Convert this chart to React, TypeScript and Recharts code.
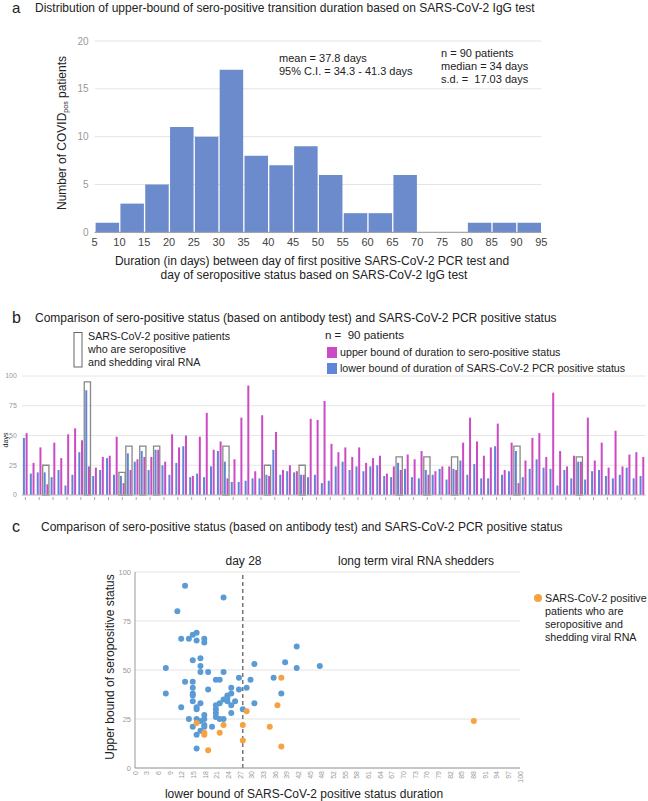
import React from 'react';
import { BarChart, Bar, XAxis, YAxis, CartesianGrid, ScatterChart, Scatter, ReferenceLine } from 'recharts';

// ---------- Panel a: histogram ----------
const binStarts = [5, 10, 15, 20, 25, 30, 35, 40, 45, 50, 55, 60, 65, 70, 75, 80, 85, 90];
const binCounts = [1, 3, 5, 11, 10, 17, 8, 7, 9, 6, 2, 2, 6, 0, 0, 1, 1, 1];
const durationTicks = [5, 10, 15, 20, 25, 30, 35, 40, 45, 50, 55, 60, 65, 70, 75, 80, 85, 90, 95];
const countTicks = [0, 5, 10, 15, 20];

// ---------- Panel b: per patient bars ----------
const lowerBound = [
  48, 18, 19, 19, 15, 21, 8, 17, 36, 88,
  16, 21, 31, 17, 16, 35, 28, 37, 21, 38,
  25, 17, 27, 41, 15, 18, 15, 24, 37, 28,
  11, 11, 12, 14, 14, 17, 38, 17, 20, 19,
  17, 15, 17, 10, 12, 24, 28, 21, 24, 20,
  24, 25, 16, 15, 27, 22, 15, 14, 21, 17,
  22, 13, 22, 29, 17, 26, 14, 14, 41, 17,
  20, 37, 15, 22, 30, 23, 22, 8, 21, 14,
  28, 13, 20, 21, 16, 14, 17, 23, 14, 16,
];
const upperBound = [
  52, 27, 40, 9, 44, 31, 51, 56, 46, 24,
  23, 32, 33, 49, 10, 21, 30, 32, 32, 38,
  28, 51, 40, 50, 16, 49, 69, 38, 45, 14,
  30, 65, 92, 20, 67, 16, 53, 21, 25, 20,
  17, 64, 63, 79, 43, 36, 40, 32, 40, 27,
  31, 33, 18, 24, 21, 34, 30, 37, 17, 20,
  24, 24, 21, 44, 65, 45, 33, 40, 60, 21,
  44, 10, 29, 48, 52, 32, 86, 37, 24, 33,
  28, 65, 29, 44, 23, 54, 24, 34, 36, 32,
];
const shedderPatient = [4, 10, 15, 16, 18, 20, 30, 36, 41, 55, 59, 63, 72, 81];
const shedderBoxTop = [25, 95, 19, 41, 41, 41, 41, 25, 25, 32, 32, 32, 41, 32];
const daysTicks = [0, 25, 50, 75, 100];

// ---------- Panel c: scatter ----------
const blueLower = [
  13, 23, 11, 12, 14, 15, 16, 16, 18, 18, 8, 8, 17, 15, 17, 17, 19, 23,
  13, 15, 15, 15, 15, 15, 12, 16, 16, 17, 19, 14, 16, 17, 18, 18, 15, 18,
  18, 17, 16, 16, 20, 21, 22, 21, 21, 21, 21, 22, 22, 23, 23, 24, 24, 25,
  25, 24, 25, 26, 25, 27, 27, 28, 29, 30, 31, 31, 36, 38, 39, 42, 42, 48,
];
const blueUpper = [
  93, 87, 80, 66, 66, 68, 69, 65, 66, 64, 51, 38, 56, 55, 52, 49, 49, 49,
  44, 44, 41, 38, 37, 34, 31, 31, 30, 33, 40, 25, 25, 24, 27, 25, 21, 22,
  21, 19, 17, 10, 21, 45, 45, 32, 30, 28, 26, 33, 25, 25, 35, 36, 37, 38,
  41, 34, 32, 34, 28, 46, 40, 30, 41, 45, 53, 33, 46, 38, 54, 62, 51, 52,
];
const orangeLower = [16, 18, 18, 19, 22, 23, 28, 28, 29, 35, 37, 38, 38, 88];
const orangeUpper = [23, 18, 17, 9, 18, 22, 22, 14, 29, 21, 32, 46, 11, 24];
const lowerTickLabels = [
  '0', '3', '6', '9', '12', '15', '18', '21', '24', '27', '30', '33', '36', '39', '42', '45', '48',
  '52', '55', '58', '61', '64', '67', '70', '73', '76', '79', '82', '85', '88', '91', '94', '97', '100',
];

const histData = binStarts.map((s, i) => ({ mid: s + 2.5, count: binCounts[i] }));
const patientData = lowerBound.map((v, i) => {
  const k = shedderPatient.indexOf(i + 1);
  return { id: i + 1, lower: v, upper: upperBound[i], box: k >= 0 ? shedderBoxTop[k] : null };
});
const blueData = blueLower.map((x, i) => ({ x, y: blueUpper[i] }));
const orangeData = orangeLower.map((x, i) => ({ x, y: orangeUpper[i] }));
const lowerTicks = lowerTickLabels.map((_, i) => (i * 100) / (lowerTickLabels.length - 1));

const HIST_BLUE = '#6b8bcd';
const BAR_BLUE = '#5f86d6';
const MAGENTA = '#cc4ac4';
const DOT_BLUE = '#5b9bd5';
const DOT_ORANGE = '#f5a340';
const TXT = '#222';

const SmallTick = (p: any) => (
  <line x1={p.x} x2={p.x} y1={p.y + 2} y2={p.y + 5} stroke="#aaa" strokeWidth={1} />
);

const RotTick = (p: any) => (
  <text
    x={p.x}
    y={p.y}
    transform={`rotate(-90 ${p.x} ${p.y})`}
    textAnchor="end"
    dominantBaseline="central"
    fontSize={7}
    fill="#999"
  >
    {lowerTickLabels[p.index]}
  </text>
);

const blueDot = (p: any) => <circle cx={p.cx} cy={p.cy} r={3} fill={DOT_BLUE} />;
const orangeDot = (p: any) => <circle cx={p.cx} cy={p.cy} r={3} fill={DOT_ORANGE} />;

export default function App() {
  return (
    <div
      style={{
        position: 'absolute',
        left: 0,
        top: 0,
        width: 648,
        height: 801,
        background: '#fff',
        fontFamily: '"Liberation Sans", Arial, sans-serif',
        overflow: 'hidden',
      }}
    >
      {/* Panel a */}
      <div style={{ position: 'absolute', left: 0, top: 0 }}>
        <BarChart
          width={648}
          height={256}
          data={histData}
          margin={{ top: 41, right: 106.7, bottom: 0, left: 0 }}
        >
          <CartesianGrid vertical={false} stroke="#e4e4e4" />
          <XAxis
            type="number"
            dataKey="mid"
            domain={[5, 95]}
            ticks={durationTicks}
            interval={0}
            height={23.7}
            tickLine={false}
            tickSize={6}
            tickMargin={0}
            axisLine={{ stroke: '#999' }}
            tick={{ fontSize: 11, fill: '#444' }}
          />
          <YAxis
            type="number"
            domain={[0, 20]}
            ticks={countTicks}
            width={94.6}
            axisLine={false}
            tickLine={false}
            tickSize={6}
            tickMargin={0}
            tick={{ fontSize: 10, fill: '#999' }}
          />
          <Bar dataKey="count" fill={HIST_BLUE} barSize={23.5} isAnimationActive={false} />
        </BarChart>
      </div>

      {/* Panel b */}
      <div style={{ position: 'absolute', left: 0, top: 370 }}>
        <BarChart
          width={648}
          height={135}
          data={patientData}
          barGap={0.7}
          margin={{ top: 6, right: 2.5, bottom: 0, left: 0 }}
        >
          <CartesianGrid vertical={false} stroke="#e6e6e6" />
          <XAxis
            dataKey="id"
            height={10}
            interval={1}
            tickLine={false}
            tickSize={0}
            tickMargin={0}
            axisLine={{ stroke: '#bbb' }}
            tick={SmallTick}
          />
          <XAxis xAxisId="box" dataKey="id" hide />
          <YAxis
            type="number"
            domain={[0, 100]}
            ticks={daysTicks}
            width={21.9}
            axisLine={false}
            tickLine={false}
            tickSize={5}
            tickMargin={0}
            tick={{ fontSize: 7, fill: '#999' }}
          />
          <Bar dataKey="lower" fill={BAR_BLUE} barSize={2} isAnimationActive={false} />
          <Bar dataKey="upper" fill={MAGENTA} barSize={2} isAnimationActive={false} />
          <Bar
            xAxisId="box"
            dataKey="box"
            barSize={8}
            fill="none"
            stroke="#888"
            strokeWidth={1.3}
            isAnimationActive={false}
          />
        </BarChart>
      </div>

      {/* Panel c */}
      <div style={{ position: 'absolute', left: 0, top: 565 }}>
        <ScatterChart width={648} height={236} margin={{ top: 7, right: 128, bottom: 0, left: 0 }}>
          <CartesianGrid vertical={false} stroke="#e3e3e3" />
          <XAxis
            type="number"
            dataKey="x"
            domain={[0, 100]}
            ticks={lowerTicks}
            interval={0}
            height={33}
            tickLine={false}
            tickSize={0}
            tickMargin={3}
            axisLine={{ stroke: '#999' }}
            tick={RotTick}
          />
          <YAxis
            type="number"
            dataKey="y"
            domain={[0, 100]}
            ticks={daysTicks}
            width={135}
            axisLine={{ stroke: '#999' }}
            tickLine={false}
            tickSize={4}
            tickMargin={0}
            tick={{ fontSize: 7.5, fill: '#999' }}
          />
          <ReferenceLine x={28} stroke="#555" strokeDasharray="4 3" strokeWidth={1.2} />
          <Scatter data={blueData} fill={DOT_BLUE} shape={blueDot} isAnimationActive={false} />
          <Scatter data={orangeData} fill={DOT_ORANGE} shape={orangeDot} isAnimationActive={false} />
        </ScatterChart>
      </div>

      {/* Text overlay */}
      <svg
        width={648}
        height={801}
        style={{ position: 'absolute', left: 0, top: 0, pointerEvents: 'none' }}
      >
        {/* a */}
        <text x={12} y={13} fontSize={15} fill={TXT}>a</text>
        <text x={35} y={12} fontSize={12} fill={TXT}>
          Distribution of upper-bound of sero-positive transition duration based on SARS-CoV-2 IgG test
        </text>
        <text x={279} y={62} fontSize={11} fill={TXT}>mean = 37.8 days</text>
        <text x={279} y={75} fontSize={11} fill={TXT}>95% C.I. = 34.3 - 41.3 days</text>
        <text x={441} y={57} fontSize={11} fill={TXT}>n = 90 patients</text>
        <text x={441} y={70} fontSize={11} fill={TXT}>median = 34 days</text>
        <text x={441} y={83} fontSize={11} fill={TXT} style={{ whiteSpace: 'pre' }}>s.d. =  17.03 days</text>
        <text
          transform="translate(62,133) rotate(-90)"
          textAnchor="middle"
          dominantBaseline="central"
          fontSize={12}
          fill={TXT}
        >
          Number of COVID<tspan fontSize={7} dy={3}>pos</tspan><tspan dy={-3}> patients</tspan>
        </text>
        <text x={312} y={265} textAnchor="middle" fontSize={12} fill={TXT}>
          Duration (in days) between day of first positive SARS-CoV-2 PCR test and
        </text>
        <text x={314} y={279} textAnchor="middle" fontSize={12} fill={TXT}>
          day of seropositive status based on SARS-CoV-2 IgG test
        </text>

        {/* b */}
        <text x={12} y={323} fontSize={16} fill={TXT}>b</text>
        <text x={35} y={322} fontSize={12} fill={TXT}>
          Comparison of sero-positive status (based on antibody test) and SARS-CoV-2 PCR positive status
        </text>
        <rect x={74} y={332.5} width={8} height={34.5} fill="none" stroke="#666" strokeWidth={1} />
        <text x={88} y={340} fontSize={10.7} fill={TXT}>SARS-CoV-2 positive patients</text>
        <text x={88} y={353} fontSize={10.7} fill={TXT}>who are seropositive</text>
        <text x={88} y={366} fontSize={10.7} fill={TXT}>and shedding viral RNA</text>
        <text x={325} y={339} fontSize={11.5} fill={TXT} style={{ whiteSpace: 'pre' }}>n =  90 patients</text>
        <rect x={327} y={347} width={10} height={11} fill={MAGENTA} />
        <text x={340} y={356} fontSize={10.7} fill={TXT}>upper bound of duration to sero-positive status</text>
        <rect x={327} y={363} width={10} height={11} fill={BAR_BLUE} />
        <text x={340} y={372} fontSize={10.7} fill={TXT}>lower bound of duration of SARS-CoV-2 PCR positive status</text>
        <text
          transform="translate(5,440) rotate(-90)"
          textAnchor="middle"
          dominantBaseline="central"
          fontSize={7}
          fill={TXT}
        >
          days
        </text>

        {/* c */}
        <text x={12} y={532} fontSize={16} fill={TXT}>c</text>
        <text x={41} y={531} fontSize={12} fill={TXT}>
          Comparison of sero-positive status (based on antibody test) and SARS-CoV-2 PCR positive status
        </text>
        <text x={243.5} y={565} textAnchor="middle" fontSize={12} fill={TXT}>day 28</text>
        <text x={338} y={565} fontSize={12} fill={TXT}>long term viral RNA shedders</text>
        <circle cx={538} cy={598} r={4} fill={DOT_ORANGE} />
        <text x={545} y={602} fontSize={10.7} fill={TXT}>SARS-CoV-2 positive</text>
        <text x={545} y={615} fontSize={10.7} fill={TXT}>patients who are</text>
        <text x={545} y={628} fontSize={10.7} fill={TXT}>seropositive and</text>
        <text x={545} y={641} fontSize={10.7} fill={TXT}>shedding viral RNA</text>
        <text
          transform="translate(110,667) rotate(-90)"
          textAnchor="middle"
          dominantBaseline="central"
          fontSize={12}
          fill={TXT}
        >
          Upper bound of seropositive status
        </text>
        <text x={304} y={798} textAnchor="middle" fontSize={12} fill={TXT}>
          lower bound of SARS-CoV-2 positive status duration
        </text>
      </svg>
    </div>
  );
}
